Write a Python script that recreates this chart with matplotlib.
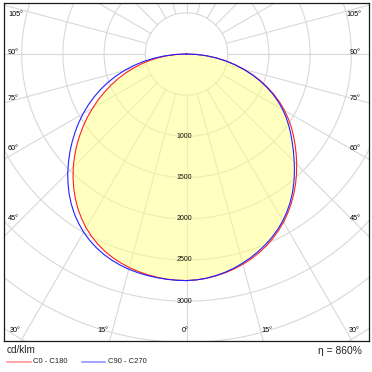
import numpy as np
import matplotlib
matplotlib.use("Agg")
import matplotlib.pyplot as plt
from matplotlib.patches import Polygon

# ---------------- data (cd/klm) ----------------
gamma = np.arange(0, 92.5, 2.5)  # degrees from nadir
c0 = [2750, 2744, 2734, 2717, 2697, 2672, 2642, 2608, 2568, 2524, 2473, 2417, 2356,
      2288, 2216, 2139, 2059, 1976, 1891, 1806, 1722, 1638, 1553, 1466, 1374, 1278,
      1176, 1069, 959, 844, 727, 607, 487, 365, 243, 121, 0]
c180 = [2750, 2748, 2743, 2733, 2720, 2704, 2683, 2658, 2627, 2591, 2546, 2495, 2437,
        2369, 2296, 2215, 2129, 2038, 1943, 1844, 1742, 1637, 1531, 1425, 1317, 1210,
        1102, 995, 889, 782, 674, 565, 456, 344, 231, 116, 0]
c90 = [2750, 2744, 2732, 2713, 2690, 2662, 2628, 2591, 2549, 2504, 2454, 2399, 2338,
       2269, 2195, 2114, 2028, 1939, 1849, 1761, 1677, 1595, 1515, 1434, 1348, 1257,
       1159, 1055, 947, 834, 719, 601, 483, 363, 242, 121, 0]
c270 = [2750, 2748, 2745, 2738, 2730, 2719, 2704, 2685, 2660, 2630, 2592, 2548, 2497,
        2437, 2371, 2297, 2216, 2129, 2038, 1943, 1847, 1749, 1650, 1551, 1449, 1346,
        1240, 1131, 1020, 904, 785, 662, 536, 405, 272, 136, 0]

rings = [500, 1000, 1500, 2000, 2500, 3000, 3500, 4000, 4500, 5000]
ring_labels = [1000, 1500, 2000, 2500, 3000]
spoke_angles = np.arange(0, 360, 15)
side_labels = ["105°", "90°", "75°", "60°", "45°"]
bottom_labels = ["30°", "15°", "0°", "15°", "30°"]
unit_label = "cd/klm"
legend_names = ["C0 - C180", "C90 - C270"]
eta_label = "η = 860%"

# ---------------- layout ----------------
W = H = 372
fig = plt.figure(figsize=(W / 100, H / 100), dpi=100)
cx, cy = 186.5, 54.0          # pole position in pixels
scale = 1000 / 82.4           # cd/klm per pixel
fx0, fx1, fy0, fy1 = 4, 369, 3, 341
ax = fig.add_axes([fx0 / W, 1 - fy1 / H, (fx1 - fx0) / W, (fy1 - fy0) / H])
ax.set_xlim((fx0 - cx) * scale, (fx1 - cx) * scale)
ax.set_ylim(-(fy1 - cy) * scale, (cy - fy0) * scale)
ax.set_xticks([])
ax.set_yticks([])
for s in ax.spines.values():
    s.set_color("#1a1a1a")
    s.set_linewidth(0.9)

FONT = "Liberation Sans"
grid_col = "#d8d8d8"

# rings
t = np.linspace(0, 2 * np.pi, 721)
for r in rings:
    ax.plot(r * np.cos(t), r * np.sin(t), color=grid_col, lw=0.8, zorder=1)
# spokes
for a in spoke_angles:
    ar = np.radians(a)
    ax.plot([500 * np.sin(ar), 6000 * np.sin(ar)], [-500 * np.cos(ar), -6000 * np.cos(ar)],
            color=grid_col, lw=0.8, zorder=1)

def curve(left, right):
    g = np.radians(gamma)
    L = np.asarray(left, float)
    R = np.asarray(right, float)
    xl, yl = -L * np.sin(g), -L * np.cos(g)
    xr, yr = R * np.sin(g), -R * np.cos(g)
    x = np.concatenate([xl[::-1], xr[1:]])
    y = np.concatenate([yl[::-1], yr[1:]])
    return x, y

rx, ry = curve(c180, c0)
bx, by = curve(c270, c90)

red_patch = Polygon(np.column_stack([rx, ry]), closed=True, transform=ax.transData)
fills = ax.fill(bx, by, color="#ffff8c", alpha=0.55, lw=0, zorder=2)
fills[0].set_clip_path(red_patch)

ax.plot(rx, ry, color="#ff2020", lw=0.8, zorder=3)
ax.plot(bx, by, color="#2020ff", lw=0.8, zorder=3)

# ring labels
for v in ring_labels:
    ax.text(-2.5 * scale, -v, str(v), ha="center", va="center", fontsize=5.0,
            family=FONT, color="#111111", zorder=4)

def ptext(xp, yp, s, **kw):
    fig.text(xp / W, 1 - yp / H, s, family=FONT, **kw)

side_y = [15, 53, 98, 149, 219]
for s, yp in zip(side_labels, side_y):
    ptext(8, yp, s, ha="left", va="center", fontsize=5.2)
    ptext(361, yp, s, ha="right", va="center", fontsize=5.2)
bottom_x = [15.5, 102.5, 185.5, 266.5, 354]
for s, xp in zip(bottom_labels, bottom_x):
    ptext(xp, 331, s, ha="center", va="center", fontsize=5.2)

# footer
ptext(7, 350, unit_label, ha="left", va="center", fontsize=7.2, color="#222222")
ptext(362, 351, eta_label, ha="right", va="center", fontsize=7.4, color="#222222")

leg_cols = ["#ff8c8c", "#8c8cff"]
leg_line_x = [(7, 31), (82, 105)]
leg_text_x = [33, 108]
for name, col, (xa, xb), xt in zip(legend_names, leg_cols, leg_line_x, leg_text_x):
    fig.add_artist(plt.Line2D([xa / W, xb / W], [1 - 361.5 / H, 1 - 361.5 / H],
                              color=col, lw=1.1, transform=fig.transFigure))
    ptext(xt, 361.5, name, ha="left", va="center", fontsize=5.5, color="#222222")

fig.savefig("out.png", dpi=100)
